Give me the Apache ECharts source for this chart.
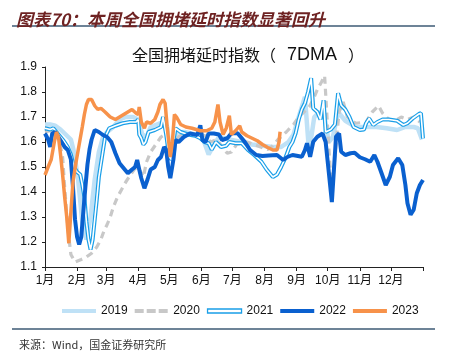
<!DOCTYPE html>
<html>
<head>
<meta charset="utf-8">
<script src="https://cdn.jsdelivr.net/npm/echarts@6/dist/echarts.min.js"></script>
<style>
body{margin:0;background:#fff;}
#main{width:453px;height:353px;}
</style>
</head>
<body>
<div id="main"></div>
<script>
/*------------数据------------*/
// x = 一年中的第几天, y = 拥堵延时指数
var monthLabels = ['1月','2月','3月','4月','5月','6月','7月','8月','9月','10月','11月','12月'];
var monthStart = [0,31,59,90,120,151,181,212,243,273,304,334];
var yearEnd = 365;

var days2019 = [0,5,10,15,20,25,28,32,36,40,44,48,52,56,60,66,72,78,85,90,94,98,102,108,114,118,121,124,127,135,145,152,158,162,168,178,190,200,210,220,228,235,240,245,251,255,260,265,270,274,278,283,290,300,310,320,330,340,348,356,360,364];
var vals2019 = [1.67,1.67,1.665,1.65,1.63,1.61,1.56,1.45,1.28,1.21,1.30,1.45,1.56,1.62,1.64,1.66,1.69,1.70,1.70,1.69,1.63,1.62,1.66,1.67,1.68,1.66,1.53,1.55,1.64,1.64,1.63,1.62,1.55,1.58,1.62,1.61,1.60,1.59,1.585,1.58,1.58,1.60,1.63,1.70,1.78,1.56,1.70,1.72,1.70,1.60,1.62,1.72,1.685,1.66,1.66,1.66,1.655,1.648,1.66,1.66,1.655,1.61];

var days2020 = [0,5,10,14,17,19,21,23,25,29,35,40,45,50,54,57,60,63,66,70,74,78,82,86,90,93,95,98,102,107,112,116,119,122,125,130,140,150,155,160,166,172,176,180,185,195,205,215,220,225,233,240,245,250,255,259,263,267,270,273,277,280,284,288,292,300,310,316,322,326,332,338,344,350,356,362];
var vals2020 = [1.64,1.645,1.64,1.60,1.54,1.42,1.31,1.22,1.15,1.12,1.13,1.14,1.155,1.18,1.21,1.245,1.27,1.30,1.34,1.38,1.41,1.44,1.465,1.49,1.50,1.475,1.46,1.52,1.56,1.59,1.62,1.63,1.61,1.575,1.60,1.625,1.63,1.63,1.625,1.60,1.61,1.575,1.555,1.56,1.59,1.60,1.585,1.57,1.585,1.61,1.64,1.67,1.70,1.72,1.74,1.77,1.81,1.84,1.865,1.65,1.38,1.55,1.72,1.76,1.70,1.675,1.68,1.72,1.745,1.715,1.69,1.685,1.70,1.69,1.70,1.68];

var days2021 = [0,5,8,12,15,18,22,25,28,31,34,36,38,40,42,44,46,48,50,52,55,58,62,68,75,82,88,90,91,93,95,97,100,106,112,114,117,120,122,124,126,131,138,145,150,154,158,161,165,170,175,178,184,190,196,202,209,214,220,224,228,232,236,239,242,245,248,251,254,257,259,263,266,269,271,276,280,283,286,290,294,298,304,308,310,313,317,321,326,332,340,346,350,355,358,361,363,365];
var vals2021 = [1.655,1.65,1.655,1.635,1.62,1.605,1.58,1.55,1.50,1.48,1.47,1.43,1.38,1.28,1.21,1.17,1.21,1.29,1.37,1.46,1.54,1.62,1.655,1.665,1.675,1.68,1.68,1.69,1.63,1.615,1.59,1.60,1.64,1.648,1.66,1.70,1.63,1.54,1.53,1.60,1.655,1.64,1.63,1.625,1.615,1.60,1.595,1.57,1.60,1.58,1.585,1.60,1.595,1.595,1.568,1.548,1.521,1.49,1.46,1.47,1.50,1.535,1.58,1.60,1.635,1.69,1.73,1.755,1.80,1.855,1.735,1.72,1.69,1.767,1.64,1.65,1.67,1.795,1.747,1.73,1.70,1.66,1.648,1.65,1.675,1.694,1.668,1.68,1.69,1.69,1.685,1.668,1.675,1.694,1.703,1.712,1.715,1.614];

var days2022 = [0,3,5,7,10,13,16,19,22,25,27,29,31,33,35,37,39,41,43,45,48,52,56,60,64,68,72,77,80,84,87,89,91,93,96,99,102,106,109,112,115,117,119,121,122,124,126,129,134,140,147,150,152,155,158,163,168,171,176,180,186,193,198,204,210,216,224,230,234,239,243,248,251,253,256,259,263,268,271,274,277,279,281,284,286,290,295,299,304,309,314,318,321,325,329,333,336,341,345,348,350,353,356,359,362,363,365];
var vals2022 = [1.634,1.61,1.58,1.635,1.64,1.62,1.60,1.58,1.568,1.53,1.42,1.29,1.22,1.19,1.22,1.32,1.42,1.51,1.57,1.61,1.648,1.64,1.628,1.62,1.60,1.555,1.515,1.49,1.475,1.49,1.50,1.528,1.49,1.455,1.415,1.45,1.49,1.50,1.528,1.54,1.58,1.57,1.50,1.455,1.448,1.53,1.608,1.60,1.62,1.634,1.628,1.667,1.608,1.60,1.634,1.634,1.63,1.608,1.615,1.635,1.635,1.60,1.568,1.548,1.544,1.546,1.548,1.528,1.54,1.548,1.545,1.541,1.568,1.595,1.541,1.601,1.621,1.634,1.60,1.48,1.36,1.49,1.621,1.634,1.561,1.548,1.555,1.557,1.539,1.531,1.521,1.548,1.521,1.475,1.428,1.461,1.508,1.535,1.508,1.428,1.355,1.309,1.329,1.395,1.428,1.42,1.448];

var days2023 = [0,3,6,9,11,13,15,17,19,21,23,25,27,30,33,36,38,40,42,45,48,51,54,58,63,68,74,80,84,88,90,91,93,96,98,102,106,109,111,114,116,118,121,123,125,127,131,136,142,150,156,161,164,167,169,172,175,178,180,184,188,190,195,200,205,210,215,220,224,226,227];
var vals2023 = [1.468,1.50,1.53,1.60,1.64,1.62,1.55,1.47,1.38,1.30,1.195,1.32,1.44,1.52,1.59,1.66,1.71,1.75,1.77,1.77,1.745,1.73,1.735,1.72,1.70,1.69,1.705,1.72,1.73,1.715,1.71,1.74,1.68,1.655,1.68,1.675,1.69,1.72,1.75,1.77,1.755,1.66,1.54,1.60,1.71,1.70,1.67,1.66,1.655,1.645,1.645,1.655,1.68,1.75,1.68,1.63,1.655,1.705,1.63,1.645,1.665,1.64,1.625,1.615,1.605,1.59,1.578,1.568,1.568,1.60,1.641];

var yTicks = [1.1,1.2,1.3,1.4,1.5,1.6,1.7,1.8,1.9];

/*------------数据处理------------*/
function pts(days, vals) {
	return days.map(function(d, i) {
		return [d, vals[i]];
	});
}

var C19 = '#bfe1f6', C20 = '#c8c8c8', C21 = '#1a9fe8', C22 = '#0a60cf', C23 = '#f7924a';
var font = '"Liberation Sans", Arial, "Noto Sans CJK SC", sans-serif';
var cjk = '"Noto Sans CJK SC", sans-serif';

/*------------echarts设置------------*/
var chart = echarts.init(document.getElementById('main'));
chart.setOption({
	backgroundColor: '#fff',
	animation: false,
	title: [{
		text: '图表70：本周全国拥堵延时指数显著回升',
		left: 11,
		top: 6,
		textStyle: {
			fontFamily: cjk,
			fontSize: 17,
			fontStyle: 'italic',
			fontWeight: 'bold',
			color: '#6e2222'
		}
	}, {
		text: '{a|全国拥堵延时指数（}{b|7DMA}{a|）}',
		left: 127,
		top: 41,
		textStyle: {
			fontWeight: 'normal',
			rich: {
				a: {fontFamily: cjk, fontSize: 16, fontWeight: 'normal', color: '#111'},
				b: {fontFamily: font, fontSize: 18, fontWeight: 'normal', color: '#111', width: 72, align: 'center'}
			}
		}
	}, {
		text: '来源：Wind，国金证券研究所',
		left: 14,
		top: 334,
		textStyle: {
			fontFamily: cjk,
			fontSize: 11,
			fontWeight: 'normal',
			color: '#333'
		}
	}],
	graphic: [{
		type: 'line',
		shape: {x1: 12, y1: 26, x2: 435, y2: 26},
		style: {stroke: '#3c5a75', lineWidth: 1.5}
	}, {
		type: 'line',
		shape: {x1: 12, y1: 329, x2: 435, y2: 329},
		style: {stroke: '#3c5a75', lineWidth: 1.5}
	}],
	legend: {
		left: 57,
		top: 300,
		itemWidth: 34,
		itemHeight: 4,
		itemGap: 7,
		textStyle: {fontFamily: font, fontSize: 12, color: '#111'},
		itemStyle: {borderWidth: 0},
		data: [
			{name: '2019', icon: 'rect', itemStyle: {color: C19, borderWidth: 0}},
			{name: '2020', icon: 'path://M0,0H9V4H0Z M12,0H21V4H12Z M24,0H33V4H24Z', itemStyle: {color: C20, borderWidth: 0}},
			{name: '2021', icon: 'rect', itemStyle: {color: '#fff', borderColor: C21, borderWidth: 1.3}},
			{name: '2022', icon: 'rect', itemStyle: {color: C22, borderWidth: 0}},
			{name: '2023', icon: 'rect', itemStyle: {color: C23, borderWidth: 0}}
		]
	},
	grid: {
		left: 45,
		right: 30,
		top: 67,
		bottom: 86
	},
	xAxis: {
		type: 'value',
		min: 0,
		max: yearEnd,
		axisLine: {lineStyle: {color: '#222', width: 1}},
		axisTick: {
			customValues: monthStart.concat([yearEnd]),
			length: 4,
			lineStyle: {color: '#222'}
		},
		axisLabel: {
			customValues: monthStart,
			margin: 8,
			fontFamily: font,
			fontSize: 12,
			color: '#111',
			formatter: function(v) {
				var i = monthStart.indexOf(Math.round(v));
				return i >= 0 ? monthLabels[i] : '';
			}
		},
		splitLine: {show: false}
	},
	yAxis: {
		type: 'value',
		min: yTicks[0],
		max: yTicks[yTicks.length - 1],
		interval: 0.1,
		axisLine: {show: true, lineStyle: {color: '#222', width: 1}},
		axisTick: {show: true, length: 3, lineStyle: {color: '#222'}},
		axisLabel: {
			margin: 8,
			fontFamily: font,
			fontSize: 12,
			color: '#111',
			formatter: function(v) { return v.toFixed(1); }
		},
		splitLine: {show: false}
	},
	series: [{
		name: '2019',
		type: 'line',
		symbol: 'none',
		data: pts(days2019, vals2019),
		itemStyle: {color: C19},
		lineStyle: {color: C19, width: 4.5}
	}, {
		name: '2020',
		type: 'line',
		symbol: 'none',
		data: pts(days2020, vals2020),
		itemStyle: {color: C20},
		lineStyle: {color: C20, width: 3.2, type: [7, 5]}
	}, {
		name: '2021',
		type: 'line',
		symbol: 'none',
		data: pts(days2021, vals2021),
		itemStyle: {color: C21},
		lineStyle: {color: C21, width: 4}
	}, {
		name: '2021', //白色内芯，做成双线
		type: 'line',
		symbol: 'none',
		data: pts(days2021, vals2021),
		itemStyle: {color: '#fff'},
		lineStyle: {color: '#fff', width: 1.6}
	}, {
		name: '2022',
		type: 'line',
		symbol: 'none',
		data: pts(days2022, vals2022),
		itemStyle: {color: C22},
		lineStyle: {color: C22, width: 4}
	}, {
		name: '2023',
		type: 'line',
		symbol: 'none',
		data: pts(days2023, vals2023),
		itemStyle: {color: C23},
		lineStyle: {color: C23, width: 3.5}
	}]
});
</script>
</body>
</html>
